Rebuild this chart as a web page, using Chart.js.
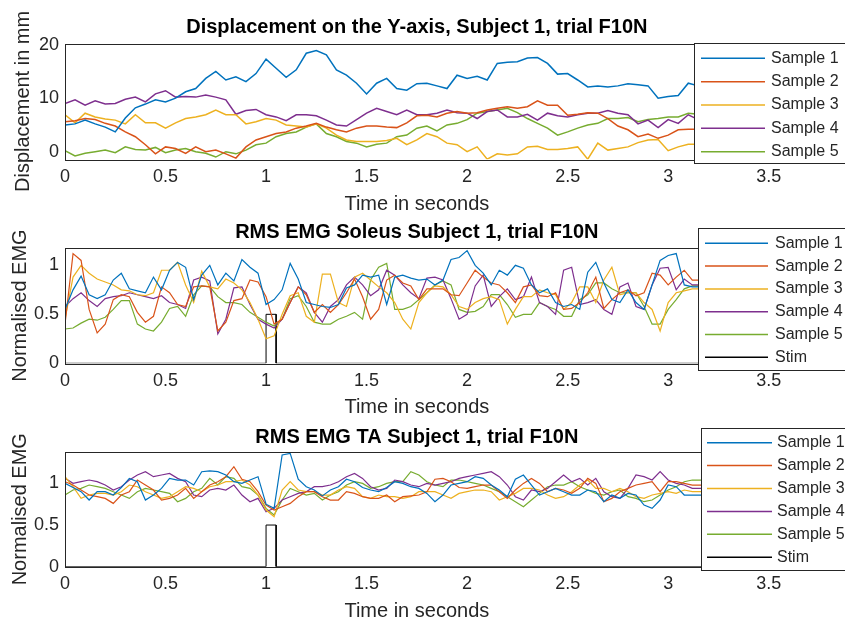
<!DOCTYPE html>
<html>
<head>
<meta charset="utf-8">
<script src="https://cdn.jsdelivr.net/npm/chart.js@4"></script>
<style>
  html, body { margin: 0; padding: 0; background: #fff; overflow: hidden; width: 845px; height: 623px; }
  canvas { position: absolute; left: 0; }
</style>
</head>
<body>
<canvas id="c1" width="845" height="216" style="top:0px"></canvas>
<canvas id="c2" width="845" height="203" style="top:216px"></canvas>
<canvas id="c3" width="845" height="204" style="top:419px"></canvas>
<script>
// sample names and tick values
const sampleNames = ['Sample 1', 'Sample 2', 'Sample 3', 'Sample 4', 'Sample 5'];
const sampleColors = ['#0072BD', '#D95319', '#EDB120', '#7E2F8E', '#77AC30'];
const timeTicks = [0, 0.5, 1, 1.5, 2, 2.5, 3, 3.5];
const dispTicks = [0, 10, 20];
const emgTicks = [0, 0.5, 1];

// displacement, sampled every 0.05 s
const dispTime = [0,0.05,0.1,0.15,0.2,0.25,0.3,0.35,0.4,0.45,0.5,0.55,0.6,0.65,0.7,0.75,0.8,0.85,0.9,0.95,
  1,1.05,1.1,1.15,1.2,1.25,1.3,1.35,1.4,1.45,1.5,1.55,1.6,1.65,1.7,1.75,1.8,1.85,1.9,1.95,
  2,2.05,2.1,2.15,2.2,2.25,2.3,2.35,2.4,2.45,2.5,2.55,2.6,2.65,2.7,2.75,2.8,2.85,2.9,2.95,3,3.05,3.1,3.15];
const disp1 = [5.0,5.2,5.9,5.2,4.6,3.7,6.3,8.2,8.9,9.7,9.3,10.0,11.2,11.8,13.7,15.0,13.4,14.0,13.1,14.6,
  17.3,15.6,13.9,15.3,18.4,18.9,18.1,15.3,14.3,12.8,10.8,12.8,13.7,11.8,11.5,12.7,12.8,12.3,11.8,14.3,
  13.7,14.1,13.4,16.5,16.7,16.8,17.5,17.6,16.5,14.5,14.6,13.4,12.1,12.3,12.1,12.3,12.7,12.5,12.3,10.0,10.3,10.5,12.8,12.3];
const disp2 = [5.6,5.8,6.2,6.0,5.3,4.8,3.7,2.8,1.3,-0.4,0.9,0.6,-0.3,0.9,0.0,0.3,-0.4,-1.2,0.9,2.2,
  2.8,3.4,3.7,4.4,4.8,5.3,4.6,4.1,3.7,4.4,4.8,4.8,4.6,4.5,5.4,6.7,6.8,6.5,7.2,7.5,
  7.2,7.3,7.8,8.1,8.4,8.1,8.4,9.5,8.7,8.7,6.8,7.0,7.3,7.2,6.2,4.8,4.1,2.8,3.3,2.5,3.1,4.1,4.2,4.2];
const disp3 = [6.9,5.4,7.2,6.5,6.1,5.9,5.2,6.9,5.4,5.4,4.4,5.4,6.2,6.5,6.9,7.8,6.9,6.9,5.2,5.6,
  6.2,5.9,5.0,4.8,4.6,5.2,4.4,3.1,2.2,1.9,1.9,1.9,2.1,2.5,1.3,2.2,3.4,2.8,1.6,1.3,
  0.0,0.9,-1.4,-0.4,-0.6,-0.4,0.9,1.0,0.4,0.4,0.6,0.9,-1.4,1.6,0.3,0.6,0.9,1.7,2.2,2.3,0.2,0.9,1.4,1.4];
const disp4 = [9.0,9.7,8.7,9.5,8.9,9.0,9.8,10.2,9.3,10.8,11.4,10.2,10.3,10.2,10.6,10.2,9.7,7.0,7.7,7.9,
  6.9,6.5,5.8,6.9,6.9,6.7,5.9,5.0,4.8,6.0,7.2,8.1,7.5,6.9,7.8,6.9,6.9,7.2,7.8,7.3,
  7.2,6.2,7.5,7.8,6.5,6.5,7.0,5.9,7.2,6.7,6.5,6.9,7.2,7.2,7.7,7.2,6.9,5.2,5.9,4.5,6.0,5.3,6.9,6.0];
const disp5 = [0.2,-0.8,-0.3,0.0,0.3,-0.2,0.9,0.4,0.3,0.8,-0.2,0.3,0.6,0.0,-0.3,-1.0,0.0,-0.4,0.3,1.3,
  1.6,2.8,3.4,3.7,4.6,5.2,3.4,2.8,1.9,1.6,0.9,1.4,1.6,2.8,3.1,4.4,4.8,3.9,5.0,5.3,
  6.0,7.2,7.5,7.8,8.1,7.3,6.2,5.3,4.4,3.1,3.7,4.4,5.0,5.3,6.2,6.2,6.4,5.6,6.0,6.2,6.5,6.5,7.2,7.0];

// RMS EMG, sampled every 0.04 s
const emgTime = [0,0.04,0.08,0.12,0.16,0.2,0.24,0.28,0.32,0.36,0.4,0.44,0.48,0.52,0.56,0.6,0.64,0.68,0.72,0.76,
  0.8,0.84,0.88,0.92,0.96,1,1.04,1.08,1.12,1.16,1.2,1.24,1.28,1.32,1.36,1.4,1.44,1.48,1.52,1.56,
  1.6,1.64,1.68,1.72,1.76,1.8,1.84,1.88,1.92,1.96,2,2.04,2.08,2.12,2.16,2.2,2.24,2.28,2.32,2.36,
  2.4,2.44,2.48,2.52,2.56,2.6,2.64,2.68,2.72,2.76,2.8,2.84,2.88,2.92,2.96,3,3.04,3.08,3.12,3.16,3.2];

const sol1 = [0.55,0.75,0.89,0.70,0.66,0.70,0.85,0.92,0.76,0.74,0.72,0.88,0.75,0.95,1.03,0.98,0.65,0.90,1.0,0.80,0.92,0.84,1.06,0.98,0.92,0.60,0.65,
  0.75,1.02,0.86,0.62,0.60,0.58,0.57,0.60,0.77,0.80,0.90,0.88,0.90,0.60,0.88,0.90,0.87,0.85,0.86,0.80,0.85,1.06,1.08,1.15,1.0,0.92,
  0.80,0.95,0.90,1.0,0.97,0.80,0.72,0.76,0.62,0.58,0.60,0.55,0.93,1.03,0.82,0.65,0.62,0.75,0.62,0.55,0.80,1.05,1.10,1.12,0.80,0.78,0.78,0.78];
const sol2 = [0.40,1.12,1.05,0.55,0.31,0.40,0.65,0.70,0.68,0.52,0.42,0.48,0.78,0.72,0.60,0.58,0.78,0.79,0.78,0.33,0.42,0.64,0.66,0.85,0.83,0.68,0.40,
  0.45,0.62,0.78,0.70,0.52,0.60,0.52,0.60,0.72,0.86,0.68,0.45,0.55,0.85,0.90,0.82,0.79,0.65,0.76,0.76,0.76,0.70,0.69,0.82,0.95,0.88,
  0.82,0.80,0.72,0.62,0.78,0.80,0.69,0.68,0.72,0.55,0.56,0.62,0.72,0.88,0.56,0.65,0.72,0.75,0.69,0.72,0.92,0.90,0.80,0.88,0.95,0.85,0.85,0.85];
const sol3 = [0.45,0.88,1.0,0.92,0.86,0.83,0.80,0.75,0.74,0.70,0.69,0.72,0.95,0.95,1.03,0.80,0.62,0.94,0.78,0.76,0.86,0.82,0.75,0.62,0.45,0.25,0.28,
  0.50,0.69,0.72,0.48,0.42,0.91,0.91,0.62,0.58,0.88,0.92,0.85,0.78,0.72,0.62,0.45,0.35,0.62,0.72,0.79,0.78,0.70,0.58,0.55,0.62,0.66,
  0.68,0.65,0.40,0.55,0.68,0.68,0.75,0.72,0.70,0.55,0.62,0.78,0.78,0.62,0.85,0.98,0.70,0.72,0.72,0.62,0.55,0.33,0.62,0.72,0.74,0.76,0.76,0.76];
const sol4 = [0.58,0.66,0.72,0.64,0.58,0.66,0.68,0.69,0.72,0.70,0.68,0.66,0.69,0.62,0.60,0.56,0.85,0.88,0.84,0.30,0.45,0.77,0.78,0.60,0.45,0.40,0.36,
  0.45,0.62,0.78,0.72,0.52,0.42,0.58,0.65,0.80,0.88,0.80,0.69,0.75,0.95,0.90,0.80,0.72,0.66,0.87,0.88,0.85,0.66,0.45,0.50,0.79,0.90,
  0.58,0.68,0.76,0.65,0.68,0.88,0.62,0.58,0.50,0.95,0.98,0.60,0.62,0.65,0.55,0.50,0.78,0.82,0.58,0.55,0.80,0.97,0.98,0.75,0.86,0.80,0.80,0.80];
const sol5 = [0.35,0.36,0.41,0.45,0.44,0.47,0.55,0.64,0.64,0.40,0.35,0.33,0.42,0.56,0.58,0.48,0.70,0.79,0.78,0.68,0.62,0.62,0.60,0.52,0.47,0.42,0.38,
  0.45,0.66,0.69,0.58,0.42,0.40,0.40,0.45,0.48,0.52,0.45,0.85,0.98,1.02,0.55,0.55,0.58,0.65,0.72,0.80,0.84,0.80,0.55,0.52,0.53,0.58,
  0.70,0.70,0.60,0.47,0.50,0.50,0.62,0.58,0.55,0.48,0.48,0.65,0.70,0.82,0.82,0.76,0.72,0.72,0.72,0.58,0.40,0.40,0.55,0.65,0.76,0.79,0.79,0.79];

const ta1 = [1.0,0.95,0.90,0.80,0.90,0.90,0.86,0.95,1.06,1.02,0.80,0.86,0.94,1.06,1.04,1.04,0.98,1.14,1.15,1.14,1.10,1.02,1.00,1.04,1.08,0.75,0.70,
  1.34,1.36,1.05,0.96,0.92,0.85,0.92,0.96,1.05,1.02,0.95,0.92,0.90,0.95,1.02,1.00,0.96,0.94,0.88,0.78,0.86,0.98,1.0,1.02,1.08,1.06,
  0.98,0.92,0.84,1.05,1.10,0.98,0.86,0.90,0.94,0.90,0.86,0.86,0.92,0.90,0.78,0.86,0.82,0.88,0.86,0.74,0.70,0.80,0.98,0.96,0.86,0.86,0.86,0.86];
const ta2 = [1.02,0.98,0.92,0.86,0.84,0.82,0.76,0.86,0.90,1.04,0.98,0.92,0.80,0.82,0.86,0.94,0.82,0.90,0.98,1.02,1.08,1.20,1.05,1.02,0.90,0.74,0.68,
  0.72,0.76,0.84,0.90,0.90,0.84,0.80,0.80,0.90,0.88,0.84,0.82,0.82,0.86,0.78,0.84,0.85,0.86,0.90,1.05,1.06,1.02,0.95,0.94,0.96,0.98,
  0.98,0.90,0.82,0.92,1.00,1.06,1.00,0.90,0.94,0.92,0.88,0.94,1.06,1.00,0.78,0.82,0.90,0.94,0.98,1.00,1.02,0.90,1.02,1.02,1.00,0.98,0.98,0.98];
const ta3 = [1.08,0.96,0.82,0.86,0.88,0.88,0.86,0.90,0.98,0.96,0.90,0.86,0.82,0.84,0.90,0.96,0.94,0.90,0.96,0.98,1.02,1.02,1.04,0.98,0.86,0.68,0.60,
  0.92,1.02,0.92,0.90,0.90,0.86,0.86,0.92,0.96,0.94,0.84,0.82,0.86,0.84,0.84,0.82,0.84,0.90,0.90,0.90,0.86,0.82,0.88,0.90,0.92,0.92,
  0.90,0.80,0.84,0.88,0.94,0.94,0.92,0.86,0.82,0.84,0.90,0.98,1.04,0.94,0.94,0.90,0.94,0.90,0.84,0.82,0.86,0.88,0.90,0.88,0.92,0.90,0.90,0.90];
const ta4 = [1.06,1.0,1.02,1.04,1.02,0.98,0.92,0.96,1.04,1.10,1.14,1.08,1.10,1.12,1.06,1.02,0.86,0.84,0.92,0.94,0.92,0.98,0.86,0.78,0.82,0.66,0.70,
  0.80,0.84,0.88,0.90,0.96,0.96,0.98,1.02,1.08,1.12,1.06,0.96,0.92,0.94,1.04,1.02,0.98,0.96,1.00,0.98,1.00,1.02,1.06,1.08,1.10,1.12,
  1.14,1.08,0.98,0.84,0.80,0.92,0.90,0.94,1.02,1.10,1.02,1.06,0.98,1.06,0.90,0.84,0.82,0.94,1.10,1.08,1.04,1.14,1.04,1.00,0.98,0.94,0.94,0.94];
const ta5 = [0.86,0.92,0.94,0.98,0.96,0.94,0.90,0.86,0.82,0.90,0.94,0.92,0.90,0.88,0.78,0.82,0.90,0.94,1.06,0.98,1.08,1.06,0.96,0.94,0.86,0.70,0.62,
  0.80,0.94,0.90,0.86,0.88,0.80,0.86,0.90,0.98,1.02,1.00,0.94,0.96,1.00,1.02,1.02,1.14,1.10,1.02,0.98,0.96,1.04,1.04,1.02,1.00,0.98,
  0.94,0.90,0.84,0.78,0.72,0.80,0.88,0.96,0.98,0.98,1.02,0.96,0.92,0.88,0.86,0.90,0.92,0.84,0.82,0.78,0.80,0.86,0.92,0.96,1.02,1.04,1.04,1.04];

// stimulation pulse
const stimTime = [0, 1.0, 1.0, 1.05, 1.05, 3.5];
const stimValue = [0, 0, 0.5, 0.5, 0, 0];

Chart.defaults.font.family = "'Liberation Sans', Arial, Helvetica, sans-serif";
Chart.defaults.color = '#262626';

const toPoints = (xs, ys) => xs.map((x, i) => ({x: x, y: ys[i]}));

function sampleSets(time, series, width) {
  return series.map((vals, i) => ({
    label: sampleNames[i],
    data: toPoints(time, vals),
    borderColor: sampleColors[i],
    borderWidth: width,
    pointRadius: 0,
    tension: 0,
    fill: false
  }));
}

function stimSet() {
  return {
    label: 'Stim',
    data: toPoints(stimTime, stimValue),
    borderColor: '#000000',
    borderWidth: 1,
    pointRadius: 0,
    tension: 0,
    fill: false
  };
}

// box around the axes and a MATLAB style legend on top of it
const boxLegend = {
  id: 'boxLegend',
  afterDatasetsDraw(chart) {
    const {ctx, chartArea: a} = chart;
    ctx.save();
    ctx.strokeStyle = '#262626';
    ctx.lineWidth = 1;
    ctx.strokeRect(Math.round(a.left) + 0.5, Math.round(a.top) + 0.5,
      Math.round(a.right - a.left), Math.round(a.bottom - a.top));
    ctx.restore();
  },
  afterDraw(chart, args, o) {
    const ctx = chart.ctx;
    ctx.save();
    ctx.fillStyle = '#ffffff';
    ctx.fillRect(o.x, o.top, 900 - o.x, o.bottom - o.top);
    ctx.strokeStyle = '#262626';
    ctx.lineWidth = 1;
    ctx.strokeRect(Math.round(o.x) + 0.5, Math.round(o.top) + 0.5, 900, Math.round(o.bottom - o.top));
    ctx.font = "16px 'Liberation Sans', Arial, sans-serif";
    ctx.textBaseline = 'middle';
    chart.data.datasets.forEach((ds, i) => {
      const y = o.row0 + i * o.step;
      ctx.strokeStyle = ds.borderColor;
      ctx.lineWidth = 1.5;
      ctx.beginPath();
      ctx.moveTo(o.line0, y);
      ctx.lineTo(o.line1, y);
      ctx.stroke();
      ctx.fillStyle = '#262626';
      ctx.fillText(ds.label, o.textX, y);
    });
    ctx.restore();
  }
};

function makeChart(id, cfg) {
  return new Chart(document.getElementById(id), {
    type: 'line',
    data: {datasets: cfg.datasets},
    plugins: [boxLegend],
    options: {
      responsive: false,
      animation: false,
      events: [],
      layout: {padding: {left: 0, right: 76.3, top: 0, bottom: 0}},
      scales: {
        x: {
          type: 'linear',
          min: 0, max: 3.5,
          grid: {display: false, drawTicks: false},
          border: {display: false},
          afterBuildTicks: s => { s.ticks = timeTicks.map(v => ({value: v})); },
          afterFit: s => { s.height = cfg.xAxisH; },
          ticks: {font: {size: 18}, padding: 7, maxRotation: 0, autoSkip: false, callback: v => String(v)},
          title: {display: true, text: 'Time in seconds', font: {size: 20}, padding: {top: 0, bottom: 0}}
        },
        y: {
          min: cfg.yMin, max: cfg.yMax,
          grid: {display: false, drawTicks: false},
          border: {display: false},
          afterBuildTicks: s => { s.ticks = cfg.yTicks.map(v => ({value: v})); },
          afterFit: s => { s.width = 65; },
          ticks: {font: {size: 18}, padding: 6, callback: v => String(v)},
          title: {display: true, text: cfg.yTitle, font: {size: 20}, padding: {top: cfg.yTitlePad, bottom: 0}}
        }
      },
      plugins: {
        legend: {display: false},
        tooltip: {enabled: false},
        title: {
          display: true,
          text: cfg.title,
          fullSize: false,
          color: '#000000',
          font: {size: 20, weight: 'bold'},
          padding: {top: cfg.titleTop, bottom: cfg.titleBottom}
        },
        boxLegend: cfg.legend
      }
    }
  });
}

makeChart('c1', {
  datasets: sampleSets(dispTime, [disp1, disp2, disp3, disp4, disp5], 1.5),
  title: 'Displacement on the Y-axis, Subject 1, trial F10N',
  yTitle: 'Displacement in mm',
  yMin: -1.42, yMax: 20.22, yTicks: dispTicks,
  titleTop: 15.8, titleBottom: 3.7, xAxisH: 56.7, yTitlePad: 11,
  legend: {x: 694, top: 43, bottom: 163, line0: 701, line1: 765, textX: 771, row0: 58.3, step: 23.35}
});

makeChart('c2', {
  datasets: sampleSets(emgTime, [sol1, sol2, sol3, sol4, sol5], 1.2).concat([stimSet()]),
  title: 'RMS EMG Soleus Subject 1, trial F10N',
  yTitle: 'Normalised EMG',
  yMin: 0, yMax: 1.18, yTicks: emgTicks,
  titleTop: 4.2, titleBottom: 3.5, xAxisH: 55.7, yTitlePad: 8.5,
  legend: {x: 698, top: 12, bottom: 154, line0: 705, line1: 768, textX: 775, row0: 27.3, step: 22.8}
});

makeChart('c3', {
  datasets: sampleSets(emgTime, [ta1, ta2, ta3, ta4, ta5], 1.2).concat([stimSet()]),
  title: 'RMS EMG TA Subject 1, trial F10N',
  yTitle: 'Normalised EMG',
  yMin: 0, yMax: 1.38, yTicks: emgTicks,
  titleTop: 6.5, titleBottom: 2.2, xAxisH: 56.3, yTitlePad: 8.5,
  legend: {x: 701, top: 9, bottom: 151, line0: 707, line1: 772, textX: 777, row0: 23.7, step: 22.9}
});
</script>
</body>
</html>
